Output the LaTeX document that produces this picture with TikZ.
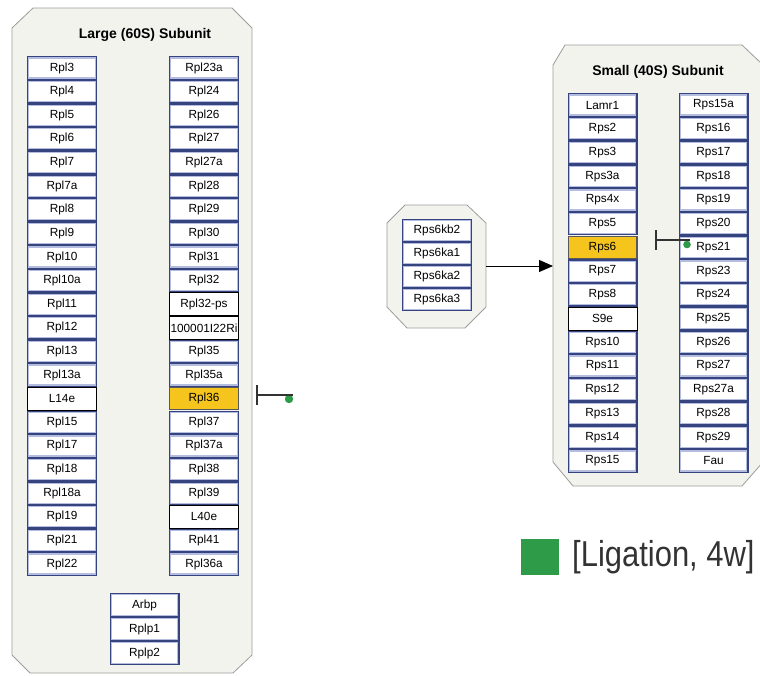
\documentclass[tikz,border=0pt]{standalone}
\usepackage{fontspec}
\setmainfont{Liberation Sans}
\usetikzlibrary{arrows.meta}
\definecolor{contfill}{HTML}{F3F3EE}
\definecolor{contdraw}{HTML}{9C9C9C}
\definecolor{navy}{HTML}{35437F}
\definecolor{lightnavy}{HTML}{B4BDE0}
\definecolor{hiyellow}{HTML}{F5C51E}
\definecolor{ligreen}{HTML}{2E9B48}
\definecolor{legtext}{HTML}{333333}
\tikzset{
  container/.style={fill=contfill, draw=contdraw, line width=0.8pt},
  boxbase/.style={minimum width=67.6pt, minimum height=21.2pt, inner sep=0pt, font=\fontsize{11.8}{12}\selectfont},
  pbox/.style={boxbase, draw=navy, line width=2.4pt, fill=white},
  plainbox/.style={boxbase, draw=black, line width=0.8pt, fill=white, minimum height=22.8pt, minimum width=69.2pt},
  hibox/.style={boxbase, draw=black!65, line width=1.2pt, fill=hiyellow, minimum height=22.4pt, minimum width=68.8pt},
  inner/.style={draw=lightnavy, line width=1.2pt},
  title/.style={font=\bfseries\fontsize{14}{16}\selectfont},
  inhib/.style={draw=black!80, line width=1.6pt},
  ibar/.style={draw=black!80, line width=2pt},
  gdot/.style={fill=ligreen, draw=none},
  act/.style={draw=black, line width=1pt, -{Triangle[length=14pt,width=12pt]}}
}
\newcommand{\innerframe}[1]{\draw[inner] ([xshift=1.8pt,yshift=-1.8pt]#1.north west) rectangle ([xshift=-1.8pt,yshift=1.8pt]#1.south east);}
\begin{document}
\begin{tikzpicture}[x=1pt,y=-1pt]
\useasboundingbox (0,0) rectangle (760,675);
\clip (0,0) rectangle (760,675);
% containers
\draw[container] (33,8) -- (232,8) -- (252,28) -- (252,655) -- (233,673) -- (30,673) -- (12,655) -- (12,28) -- cycle;
\draw[container] (565,45) -- (742,45) -- (763,65) -- (763,462) -- (742,486) -- (573,486) -- (553,462) -- (553,65) -- cycle;
\draw[container] (405,205) -- (467,205) -- (486,223) -- (486,307) -- (465,328) -- (407,328) -- (387,307) -- (387,223) -- cycle;
% titles
\node[title] (tl) at (145,35) {Large (60S) Subunit};
\node[title] (ts) at (658,72) {Small (40S) Subunit};
% large subunit, left column
\foreach \s/\t [count=\i from 0] in {pbox/Rpl3,pbox/Rpl4,pbox/Rpl5,pbox/Rpl6,pbox/Rpl7,pbox/Rpl7a,pbox/Rpl8,pbox/Rpl9,pbox/Rpl10,pbox/Rpl10a,pbox/Rpl11,pbox/Rpl12,pbox/Rpl13,pbox/Rpl13a,plainbox/L14e,pbox/Rpl15,pbox/Rpl17,pbox/Rpl18,pbox/Rpl18a,pbox/Rpl19,pbox/Rpl21,pbox/Rpl22}
  {\node[\s] (LL\i) at (62,68+\i*23.62) {\t};}
\foreach \i in {0,...,13,15,16,...,21} {\innerframe{LL\i}}
% large subunit, right column
\foreach \s/\t [count=\i from 0] in {pbox/Rpl23a,pbox/Rpl24,pbox/Rpl26,pbox/Rpl27,pbox/Rpl27a,pbox/Rpl28,pbox/Rpl29,pbox/Rpl30,pbox/Rpl31,pbox/Rpl32,plainbox/Rpl32-ps,plainbox/100001I22Ri,pbox/Rpl35,pbox/Rpl35a,hibox/Rpl36,pbox/Rpl37,pbox/Rpl37a,pbox/Rpl38,pbox/Rpl39,plainbox/L40e,pbox/Rpl41,pbox/Rpl36a}
  {\node[\s] (LR\i) at (204,68+\i*23.62) {\t};}
\foreach \i in {0,...,9,12,13,15,16,17,18,20,21} {\innerframe{LR\i}}
% Arbp group
\foreach \t [count=\i from 0] in {Arbp,Rplp1,Rplp2}
  {\node[pbox, minimum height=21.6pt] (P\i) at (144.5,605+\i*24) {\t};}
\foreach \i in {0,1,2} {\innerframe{P\i}}
% small subunit, left column
\foreach \s/\t [count=\i from 0] in {pbox/Lamr1,pbox/Rps2,pbox/Rps3,pbox/Rps3a,pbox/Rps4x,pbox/Rps5,hibox/Rps6,pbox/Rps7,pbox/Rps8,plainbox/S9e,pbox/Rps10,pbox/Rps11,pbox/Rps12,pbox/Rps13,pbox/Rps14,pbox/Rps15}
  {\node[\s] (SL\i) at (602.5,105+\i*23.73) {\t};}
\foreach \i in {0,...,5,7,8,10,11,...,15} {\innerframe{SL\i}}
% small subunit, right column
\foreach \t [count=\i from 0] in {Rps15a,Rps16,Rps17,Rps18,Rps19,Rps20,Rps21,Rps23,Rps24,Rps25,Rps26,Rps27,Rps27a,Rps28,Rps29,Fau}
  {\node[pbox, minimum height=21.3pt] (SR\i) at (713.5,105+\i*23.73) {\t};}
\foreach \i in {0,...,15} {\innerframe{SR\i}}
% Rps6 kinases
\foreach \t [count=\i from 0] in {Rps6kb2,Rps6ka1,Rps6ka2,Rps6ka3}
  {\node[pbox, minimum height=20.6pt] (K\i) at (437,230.5+\i*23) {\t};}
\foreach \i in {0,...,3} {\innerframe{K\i}}
% activation arrow
\coordinate (gE) at (486,266);
\coordinate (sW) at (553,266);
\draw[act] (gE) -- (sW);
% inhibition markers
\coordinate (m1s) at (293,395);
\coordinate (m1e) at (257,395);
\coordinate (m1a) at (257,385);
\coordinate (m1b) at (257,405);
\fill[gdot] (289,399) circle (4.2);
\draw[inhib] (m1s) -- (m1e);
\draw[ibar] (m1a) -- (m1b);
\coordinate (m2s) at (690,240);
\coordinate (m2e) at (656,240);
\coordinate (m2a) at (656,230);
\coordinate (m2b) at (656,250);
\fill[gdot] (687,244.5) circle (3.8);
\draw[inhib] (m2s) -- (m2e);
\draw[ibar] (m2a) -- (m2b);
% legend
\node[gdot, minimum width=38pt, minimum height=36pt, inner sep=0pt] (lg) at (540,557) {};
\node[anchor=west, inner sep=0pt, text=legtext] (lt) at (572,557) {\scalebox{0.86}[1]{\fontsize{36}{40}\selectfont [Ligation, 4w]}};
\end{tikzpicture}
\end{document}
